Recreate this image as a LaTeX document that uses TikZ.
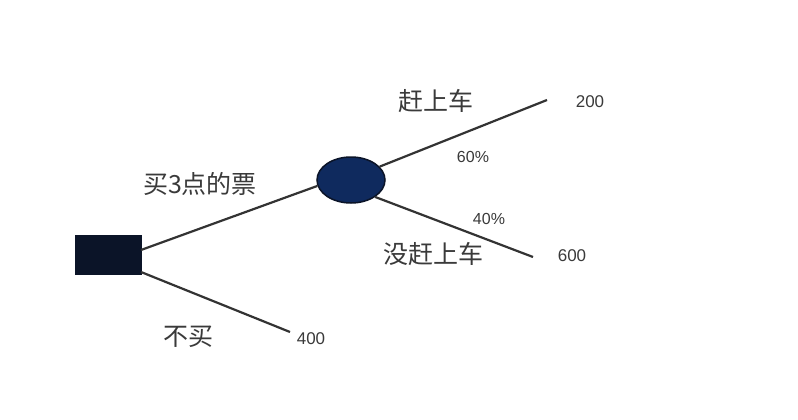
\documentclass[tikz,border=0pt]{standalone}
\usepackage{fontspec}
\setmainfont{Noto Sans CJK SC}
\newfontfamily\numfont{Liberation Sans}
\usetikzlibrary{shapes.geometric}
\definecolor{linec}{HTML}{333333}
\definecolor{textc}{HTML}{3A3A3A}
\definecolor{sqfill}{HTML}{0B1428}
\definecolor{elfill}{HTML}{0F2A5E}
\begin{document}
\begin{tikzpicture}[x=1pt,y=-1pt,
  branch/.style={draw=linec,line width=2.2pt},
  lab/.style={text=textc,font=\fontsize{25}{25}\selectfont,inner sep=0pt},
  val/.style={text=textc,font=\numfont\fontsize{17}{17}\selectfont,inner sep=0pt},
  pct/.style={text=textc,font=\numfont\fontsize{16}{16}\selectfont,inner sep=0pt}]
\useasboundingbox[fill=white] (0,0) rectangle (798,420);
\node[draw=sqfill,fill=sqfill,minimum width=66pt,minimum height=39pt,inner sep=0pt,anchor=center] (d) at (108,254.5) {};
\node[ellipse,draw=sqfill,line width=1.5pt,fill=elfill,minimum width=68pt,minimum height=46pt,inner sep=0pt] (c) at (351,180) {};
\coordinate (d1) at (141,250);
\coordinate (d2) at (141,272);
\coordinate (e200) at (547,100);
\coordinate (e600) at (533,257);
\coordinate (e400) at (290,332);
\draw[branch] (d1) -- (c.190);
\draw[branch] (d2) -- (e400);
\draw[branch] (c.25) -- (e200);
\draw[branch] (c.-35) -- (e600);
\node[lab] (l1) at (436,101) {赶上车};
\node[lab] (l2) at (200,184) {买3点的票};
\node[lab] (l3) at (433,254) {没赶上车};
\node[lab] (l4) at (188,337) {不买};
\node[val] (v1) at (590,102) {200};
\node[val] (v2) at (572,256) {600};
\node[val] (v3) at (311,339) {400};
\node[pct] (p1) at (473,157) {60\%};
\node[pct] (p2) at (489,219) {40\%};
\end{tikzpicture}
\end{document}
